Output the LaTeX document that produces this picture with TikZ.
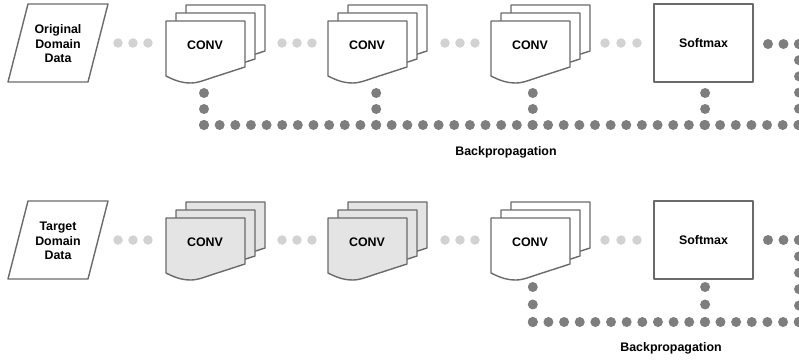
\documentclass[tikz,border=0pt]{standalone}
\usepackage{fontspec}
\setmainfont{Liberation Sans}
\definecolor{linegray}{HTML}{6A6A6A}
\definecolor{lightdot}{HTML}{D2D2D2}
\definecolor{darkdot}{HTML}{7E7E7E}
\definecolor{layerfill}{HTML}{E4E4E4}
\tikzset{
  shapeline/.style={draw=linegray, line width=1.4pt, line join=round},
  lbl/.style={font=\bfseries\fontsize{12.4}{14.5}\selectfont, align=center, text=black, inner sep=0pt},
  lightdots/.style={draw=lightdot, line width=9.5pt, line cap=round, dash pattern=on 0pt off #1},
  lightdots/.default=14.98pt,
  darkdots/.style={draw=darkdot, line width=10pt, line cap=round, dash pattern=on 0pt off #1},
  darkdots/.default=15.64pt,
  boxnode/.style={shapeline, fill=white, minimum width=99pt, minimum height=78pt, inner sep=0pt},
}
% one page of a conv stack, local coordinates from its top-left corner
\newcommand\convpage[3]{%
  \begin{scope}[shift={(#1,#2)}]
    \filldraw[shapeline, fill=#3] (0,0) -- (79,0) -- (79,46) -- (45,57)
      .. controls (35,60.5) and (30,62) .. (25,62)
      .. controls (15,62) and (8,59) .. (0,55) -- cycle;
  \end{scope}}
% stack of three pages: name, x, y of the front page, fill
\newcommand\convstack[4]{%
  \convpage{#2+20}{#3-16}{#4}
  \convpage{#2+10}{#3-8}{#4}
  \convpage{#2}{#3}{#4}
  \node[lbl] (#1) at (#2+39,#3+24) {CONV};}
\newcommand\datashape[4]{% name, x of bottom-left, y of top, text
  \filldraw[shapeline, fill=white] (#2+20,#3) -- (#2+100,#3) -- (#2+80,#3+78) -- (#2,#3+78) -- cycle;
  \node[lbl] (#1) at (#2+50,#3+40) {#4};}
\begin{document}
\begin{tikzpicture}[x=1pt,y=-1pt]
\useasboundingbox (0,0) rectangle (799,360);

% ---------------- top row ----------------
\datashape{data1}{8}{4}{Original\\Domain\\Data}
\convstack{c1a}{166}{21}{white}
\convstack{c1b}{328}{21}{white}
\convstack{c1c}{491}{21}{white}
\node[boxnode] (sm1) at (703.5,43) {};
\node[lbl] (sm1t) at (sm1.center) {Softmax};

\coordinate (t1a) at (118,43); \coordinate (t1b) at (148,43);
\coordinate (t2a) at (282,43); \coordinate (t2b) at (312,43);
\coordinate (t3a) at (445,43); \coordinate (t3b) at (475,43);
\coordinate (t4a) at (605,43); \coordinate (t4b) at (637,43);
\draw[lightdots] (t1a) -- (t1b);
\draw[lightdots] (t2a) -- (t2b);
\draw[lightdots] (t3a) -- (t3b);
\draw[lightdots=15.98pt] (t4a) -- (t4b);

\coordinate (tr1) at (768,44); \coordinate (tr2) at (799,44);
\coordinate (tr3) at (799,125); \coordinate (trow) at (204,125);
\draw[darkdots=15.48pt] (tr1) -- (tr2);
\draw[darkdots=16.18pt] (tr2) -- (tr3);
\draw[darkdots] (trow) -- (tr3);
\coordinate (tc1) at (204,93);   \coordinate (tc1r) at (204,125);
\coordinate (tc2) at (376.2,93); \coordinate (tc2r) at (376.2,125);
\coordinate (tc3) at (532.8,93); \coordinate (tc3r) at (532.8,125);
\coordinate (tc4) at (705.1,93); \coordinate (tc4r) at (705.1,125);
\draw[darkdots=15.98pt] (tc1) -- (tc1r);
\draw[darkdots=15.98pt] (tc2) -- (tc2r);
\draw[darkdots=15.98pt] (tc3) -- (tc3r);
\draw[darkdots=15.98pt] (tc4) -- (tc4r);
\node[lbl] (bp1) at (506,152) {Backpropagation};

% ---------------- bottom row ----------------
\datashape{data2}{8}{201}{Target\\Domain\\Data}
\convstack{c2a}{166}{218}{layerfill}
\convstack{c2b}{328}{218}{layerfill}
\convstack{c2c}{491}{218}{white}
\node[boxnode] (sm2) at (703.5,240) {};
\node[lbl] (sm2t) at (sm2.center) {Softmax};

\coordinate (b1a) at (118,240); \coordinate (b1b) at (148,240);
\coordinate (b2a) at (282,240); \coordinate (b2b) at (312,240);
\coordinate (b3a) at (445,240); \coordinate (b3b) at (475,240);
\coordinate (b4a) at (605,240); \coordinate (b4b) at (637,240);
\draw[lightdots] (b1a) -- (b1b);
\draw[lightdots] (b2a) -- (b2b);
\draw[lightdots] (b3a) -- (b3b);
\draw[lightdots=15.98pt] (b4a) -- (b4b);

\coordinate (br1) at (768,240); \coordinate (br2) at (799,240);
\coordinate (br3) at (799,322); \coordinate (brow) at (532.8,322);
\draw[darkdots=15.48pt] (br1) -- (br2);
\draw[darkdots=16.38pt] (br2) -- (br3);
\draw[darkdots] (brow) -- (br3);
\coordinate (bc3) at (532.8,287); \coordinate (bc3r) at (532.8,322);
\coordinate (bc4) at (705.1,287); \coordinate (bc4r) at (705.1,322);
\draw[darkdots=17.48pt] (bc3) -- (bc3r);
\draw[darkdots=17.48pt] (bc4) -- (bc4r);
\node[lbl] (bp2) at (671,348) {Backpropagation};
\end{tikzpicture}
\end{document}
